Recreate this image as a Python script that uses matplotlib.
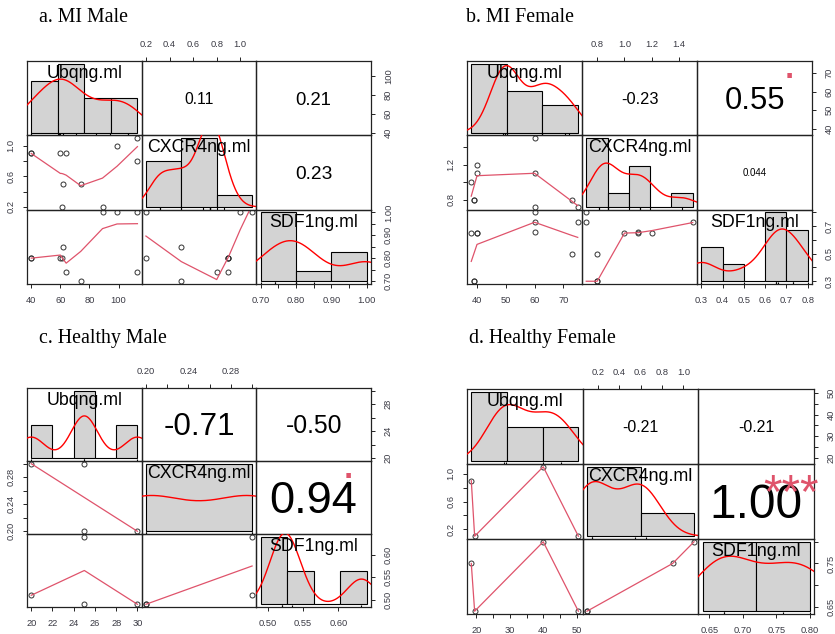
import numpy as np
import matplotlib
matplotlib.use("Agg")
import matplotlib.pyplot as plt
from matplotlib.textpath import TextPath
from matplotlib.font_manager import FontProperties
import matplotlib.transforms as mtransforms

# ------------------------------------------------------------------ data
VAR_NAMES = ["Ubqng.ml", "CXCR4ng.ml", "SDF1ng.ml"]
PANEL_TITLES = ["a. MI Male", "b. MI Female", "c. Healthy Male", "d. Healthy Female"]

# a. MI Male
a_ubq = [40, 40, 60, 61, 62, 64, 74, 89, 99, 113, 113]
a_cxcr4 = [0.9, 0.9, 0.9, 0.2, 0.5, 0.9, 0.5, 0.2, 1.0, 1.1, 0.8]
a_sdf1 = [0.8, 0.8, 0.8, 0.8, 0.85, 0.74, 0.70, 1.0, 1.0, 1.0, 0.74]
a_cor = ["0.11", "0.21", "0.23"]          # Ubq-CXCR4, Ubq-SDF1, CXCR4-SDF1
a_sig = ["", "", ""]
a_breaks = [[40, 60, 80, 100, 120], [0.0, 0.5, 1.0, 1.5], [0.7, 0.8, 0.9, 1.0]]
a_ticks = [[40, 60, 80, 100], [0.2, 0.4, 0.6, 0.8, 1.0],
           [0.70, 0.75, 0.80, 0.85, 0.90, 0.95, 1.00]]
a_hlab = [["40", "60", "80", "100"], ["0.2", "0.4", "0.6", "0.8", "1.0"],
          ["0.70", "", "0.80", "", "0.90", "", "1.00"]]
a_vlab = [["40", "60", "80", "100"], ["0.2", "", "0.6", "", "1.0"],
          ["0.70", "", "0.80", "", "0.90", "", "1.00"]]

# b. MI Female
b_ubq = [38, 39, 39, 40, 40, 60, 60, 60, 73, 75]
b_cxcr4 = [1.0, 0.8, 0.8, 1.2, 1.1, 1.5, 1.1, 0.72, 0.8, 0.72]
b_sdf1 = [0.65, 0.3, 0.3, 0.65, 0.65, 0.73, 0.66, 0.8, 0.5, 0.73]
b_cor = ["-0.23", "0.55", "0.044"]
b_sig = ["", ".", ""]
b_breaks = [[20, 40, 60, 80], [0.6, 0.8, 1.0, 1.2, 1.4, 1.6], [0.3, 0.4, 0.5, 0.6, 0.7, 0.8]]
b_ticks = [[40, 50, 60, 70], [0.8, 1.0, 1.2, 1.4], [0.3, 0.4, 0.5, 0.6, 0.7, 0.8]]
b_hlab = [["40", "50", "60", "70"], ["0.8", "1.0", "1.2", "1.4"],
          ["0.3", "0.4", "0.5", "0.6", "0.7", "0.8"]]
b_vlab = [["40", "50", "60", "70"], ["0.8", "", "1.2", ""],
          ["0.3", "", "0.5", "", "0.7", ""]]

# c. Healthy Male
c_ubq = [20, 25, 25, 30]
c_cxcr4 = [0.30, 0.30, 0.20, 0.20]
c_sdf1 = [0.51, 0.64, 0.49, 0.49]
c_cor = ["-0.71", "-0.50", "0.94"]
c_sig = ["", "", "."]
c_breaks = [[20, 22, 24, 26, 28, 30], [0.2, 0.3], [0.45, 0.50, 0.55, 0.60, 0.65]]
c_ticks = [[20, 22, 24, 26, 28, 30], [0.20, 0.22, 0.24, 0.26, 0.28, 0.30], [0.50, 0.55, 0.60]]
c_hlab = [["20", "22", "24", "26", "28", "30"], ["0.20", "", "0.24", "", "0.28", ""],
          ["0.50", "0.55", "0.60"]]
c_vlab = [["20", "", "24", "", "28", ""], ["0.20", "", "0.24", "", "0.28", ""],
          ["0.50", "0.55", "0.60"]]

# d. Healthy Female
d_ubq = [18.5, 19.5, 40, 50.5]
d_cxcr4 = [0.9, 0.1, 1.1, 0.1]
d_sdf1 = [0.75, 0.64, 0.80, 0.64]
d_cor = ["-0.21", "-0.21", "1.00"]
d_sig = ["", "", "***"]
d_breaks = [[0, 20, 40, 60], [0, 1, 2], [0.6, 0.7, 0.8]]
d_ticks = [[20, 25, 30, 35, 40, 45, 50], [0.2, 0.4, 0.6, 0.8, 1.0], [0.65, 0.70, 0.75, 0.80]]
d_hlab = [["20", "", "30", "", "40", "", "50"], ["0.2", "0.4", "0.6", "0.8", "1.0"],
          ["0.65", "0.70", "0.75", "0.80"]]
d_vlab = [["20", "", "30", "", "40", "", "50"], ["0.2", "", "0.6", "", "1.0"],
          ["0.65", "", "0.75", ""]]

# ------------------------------------------------------------------ style / layout
W, H = 835, 634
FONT = "Liberation Sans"
SERIF = "Liberation Serif"
GRID_BOXES = [(27, 61, 371, 284), (467, 61, 812, 284), (27, 388, 371, 607), (467, 389, 814, 614)]
TITLE_POS = [(39, 22.5), (466, 22.5), (39, 342.5), (469, 342.5)]
TITLE_FS = 14.3
BOX_COLOR = "#222222"
TICK_COLOR = "#3a3a44"
TICK_FS = 6.7
TICK_LEN = 3.2
SMOOTH_COLOR = "#DF536B"
SIG_COLOR = "#DF536B"
BAR_COLOR = "#D3D3D3"

plt.rcParams["font.family"] = [FONT, "DejaVu Sans"]


# ------------------------------------------------------------------ R-like helpers
def r_lowess(x, y, f=2 / 3, iters=3):
    x = np.asarray(x, float)
    y = np.asarray(y, float)
    o = np.argsort(x, kind="stable")
    x = x[o]
    y = y[o]
    n = len(x)
    if n < 2:
        return x, y.copy()
    delta = 0.01 * (x[-1] - x[0])
    ns = max(2, min(n, int(f * n + 1e-7)))
    ys = np.zeros(n)
    rw = np.ones(n)
    rng = x[-1] - x[0]

    def lowest(xs, nleft, nright, userw):
        h = max(xs - x[nleft], x[nright] - xs)
        h9 = 0.999 * h
        h1 = 0.001 * h
        w = np.zeros(n)
        a = 0.0
        j = nleft
        while j < n:
            r = abs(x[j] - xs)
            if r <= h9:
                if r <= h1:
                    w[j] = 1.0
                else:
                    w[j] = (1 - (r / h) ** 3) ** 3
                if userw:
                    w[j] *= rw[j]
                a += w[j]
            elif x[j] > xs:
                break
            j += 1
        nrt = j - 1
        if a <= 0:
            return None
        sl = slice(nleft, nrt + 1)
        w[sl] /= a
        if h > 0:
            a = np.sum(w[sl] * x[sl])
            b = xs - a
            c = np.sum(w[sl] * (x[sl] - a) ** 2)
            if np.sqrt(c) > 0.001 * rng:
                b /= c
                w[sl] *= (b * (x[sl] - a) + 1)
        return np.sum(w[sl] * y[sl])

    it = 1
    while it <= iters + 1:
        nleft, nright = 0, ns - 1
        last = -1
        i = 0
        while True:
            if nright < n - 1:
                d1 = x[i] - x[nleft]
                d2 = x[nright + 1] - x[i]
                if d1 > d2:
                    nleft += 1
                    nright += 1
                    continue
            v = lowest(x[i], nleft, nright, it > 1)
            ys[i] = y[i] if v is None else v
            if last < i - 1:
                denom = x[i] - x[last]
                for j in range(last + 1, i):
                    alpha = (x[j] - x[last]) / denom
                    ys[j] = alpha * ys[i] + (1 - alpha) * ys[last]
            last = i
            cut = x[last] + delta
            i = last + 1
            while i < n:
                if x[i] > cut:
                    break
                if x[i] == x[last]:
                    ys[i] = ys[last]
                    last = i
                i += 1
            i = max(last + 1, i - 1)
            if last >= n - 1:
                break
        res = y - ys
        sc = np.mean(np.abs(res))
        if it > iters:
            break
        ar = np.abs(res)
        srt = np.sort(ar)
        m1 = n // 2
        if n % 2 == 0:
            m2 = n - m1 - 1
            cmad = 3 * (srt[m1] + srt[m2])
        else:
            cmad = 6 * srt[m1]
        if cmad < 1e-7 * sc:
            break
        c9, c1 = 0.999 * cmad, 0.001 * cmad
        rw = np.where(ar <= c1, 1.0, np.where(ar <= c9, (1 - (ar / cmad) ** 2) ** 2, 0.0))
        it += 1
    return x, ys


def r_density(x, npts=512):
    x = np.asarray(x, float)
    sd = np.std(x, ddof=1)
    q75, q25 = np.percentile(x, [75, 25])
    lo = min(sd, (q75 - q25) / 1.34)
    if lo == 0:
        lo = sd or abs(x[0]) or 1.0
    bw = 0.9 * lo * len(x) ** -0.2
    gx = np.linspace(x.min() - 3 * bw, x.max() + 3 * bw, npts)
    gy = np.exp(-0.5 * ((gx[:, None] - x[None, :]) / bw) ** 2).sum(1) / (len(x) * bw * np.sqrt(2 * np.pi))
    return gx, gy


def r_hist_counts(x, breaks):
    b = np.asarray(breaks, float)
    fuzz = 1e-7 * np.median(np.diff(b))
    fb = b + fuzz
    fb[0] = b[0] - fuzz
    idx = np.searchsorted(fb, np.asarray(x, float), side="left") - 1
    return np.bincount(idx, minlength=len(b) - 1)[: len(b) - 1]


def glyph_cy(s, size, family=FONT):
    tp = TextPath((0, 0), s, size=size, prop=FontProperties(family=family))
    bb = tp.get_extents()
    return (bb.y0 + bb.y1) / 2


fig = plt.figure(figsize=(W / 100, H / 100), dpi=100)
renderer = fig.canvas.get_renderer()


def text_width_px(s, size, family=FONT):
    t = fig.text(0, 0, s, fontsize=size, family=family)
    w = t.get_window_extent(renderer).width
    t.remove()
    return w


def centered_text(ax, x, y, s, size, color="black"):
    cy = glyph_cy(s, size)
    tr = mtransforms.offset_copy(ax.transAxes, fig=fig, x=0, y=-cy, units="points")
    ax.text(x, y, s, transform=tr, ha="center", va="baseline", fontsize=size,
            color=color, family=FONT, clip_on=False)


def style_x(ax, ticks, labels, side):
    ax.set_xticks(ticks)
    ax.set_xticklabels(labels)
    ax.tick_params(axis="x", direction="out", length=TICK_LEN, width=0.7, color=BOX_COLOR,
                   labelsize=TICK_FS, labelcolor=TICK_COLOR, pad=5.3,
                   bottom=(side == "bottom"), top=(side == "top"),
                   labelbottom=(side == "bottom"), labeltop=(side == "top"))


def style_y(ax, ticks, labels, side):
    ax.set_yticks(ticks)
    ax.set_yticklabels(labels, rotation=90, va="center")
    ax.tick_params(axis="y", direction="out", length=TICK_LEN, width=0.7, color=BOX_COLOR,
                   labelsize=TICK_FS, labelcolor=TICK_COLOR,
                   pad=(5.0 if side == "left" else 6.0),
                   left=(side == "left"), right=(side == "right"),
                   labelleft=(side == "left"), labelright=(side == "right"))


def draw_panel(k, data, cors, sigs, breaks, ticks, hlab, vlab):
    x0, y0, x1, y1 = GRID_BOXES[k]
    cw = (x1 - x0) / 3
    ch = (y1 - y0) / 3
    data = [np.asarray(d, float) for d in data]
    lims = []
    for d in data:
        lo, hi = d.min(), d.max()
        pad = 0.04 * (hi - lo)
        lims.append((lo - pad, hi + pad))

    # diagonal label size: widest name spans 0.9 of a cell
    maxw = max(text_width_px(nm, 10) for nm in VAR_NAMES)
    lab_fs = 10 * 0.9 * cw / maxw

    tx, ty = TITLE_POS[k]
    fig.text(tx / W, 1 - ty / H, PANEL_TITLES[k], family=SERIF, fontsize=TITLE_FS,
             ha="left", va="baseline", color="black")

    upper = {(0, 1): 0, (0, 2): 1, (1, 2): 2}
    for i in range(3):
        for j in range(3):
            rect = [(x0 + j * cw) / W, 1 - (y0 + (i + 1) * ch) / H, cw / W, ch / H]
            ax = fig.add_axes(rect)
            ax.set_facecolor("none")
            for sp in ax.spines.values():
                sp.set_linewidth(0.9)
                sp.set_color(BOX_COLOR)
            ax.set_xticks([])
            ax.set_yticks([])
            # outer axes as in pairs()
            if i == 2 and j in (0, 2):
                style_x(ax, ticks[j], hlab[j], "bottom")
            if i == 0 and j == 1:
                style_x(ax, ticks[j], hlab[j], "top")
            if j == 0 and i == 1:
                style_y(ax, ticks[i], vlab[i], "left")
            if j == 2 and i in (0, 2):
                style_y(ax, ticks[i], vlab[i], "right")
            ax.set_xlim(lims[j])
            ax.set_ylim(lims[i])

            if i > j:
                xs, ys = data[j], data[i]
                ax.plot(xs, ys, "o", mfc="none", mec="#333333", ms=3.6, mew=0.7)
                lx, ly = r_lowess(xs, ys)
                ax.plot(lx, ly, color=SMOOTH_COLOR, lw=0.9)
            elif i < j:
                idx = upper[(i, j)]
                txt = cors[idx]
                r = abs(float(txt))
                base = 10 * 0.8 * cw / text_width_px(txt, 10)
                centered_text(ax, 0.5, 0.5, txt, base * (r + 0.3) / 1.3)
                sig = sigs[idx]
                if sig:
                    sy = 0.8 if sig == "." else 0.755
                    centered_text(ax, 0.8, sy, sig, base, color=SIG_COLOR)
            else:
                d = data[i]
                b = np.asarray(breaks[i], float)
                counts = r_hist_counts(d, b)
                dens = counts / (len(d) * np.diff(b))
                axh = fig.add_axes(rect, frameon=False)
                axh.set_axis_off()
                axh.bar(b[:-1], dens, width=np.diff(b), align="edge", color=BAR_COLOR,
                        edgecolor="black", linewidth=0.8)
                gx, gy = r_density(d)
                axh.plot(gx, gy, color="red", lw=1.0)
                p = 0.04 * (b[-1] - b[0])
                axh.set_xlim(b[0] - p, b[-1] + p)
                m = dens.max()
                y_lo, y_hi = -0.04 * m, 1.04 * m
                axh.set_ylim(y_lo, y_hi)
                axh.vlines(d, y_lo, y_lo + 0.03 * (y_hi - y_lo), color="black", lw=0.8)
                centered_text(axh, 0.5, 0.8333, VAR_NAMES[i], lab_fs)


draw_panel(0, [a_ubq, a_cxcr4, a_sdf1], a_cor, a_sig, a_breaks, a_ticks, a_hlab, a_vlab)
draw_panel(1, [b_ubq, b_cxcr4, b_sdf1], b_cor, b_sig, b_breaks, b_ticks, b_hlab, b_vlab)
draw_panel(2, [c_ubq, c_cxcr4, c_sdf1], c_cor, c_sig, c_breaks, c_ticks, c_hlab, c_vlab)
draw_panel(3, [d_ubq, d_cxcr4, d_sdf1], d_cor, d_sig, d_breaks, d_ticks, d_hlab, d_vlab)

fig.savefig("out.png", dpi=100, facecolor="white")
